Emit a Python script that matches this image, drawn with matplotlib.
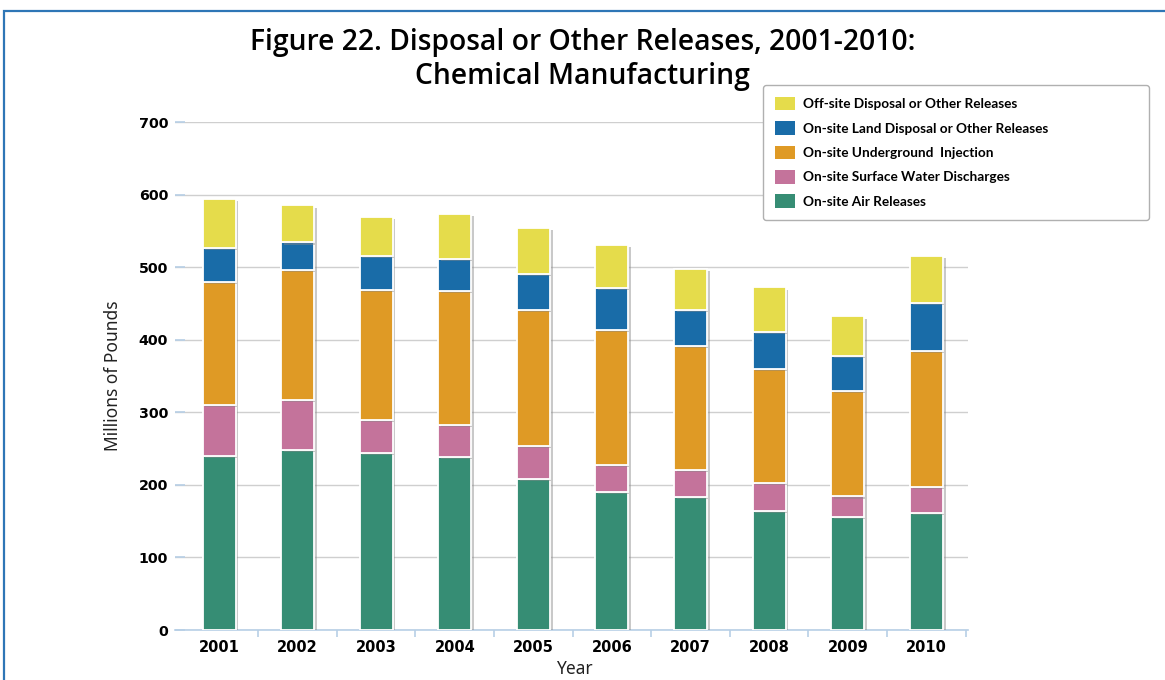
import numpy as np
import matplotlib
matplotlib.use("Agg")
import matplotlib.pyplot as plt
import matplotlib.patheffects as pe
from matplotlib.patches import Rectangle

years = ["2001", "2002", "2003", "2004", "2005", "2006", "2007", "2008", "2009", "2010"]

# millions of pounds
air_releases = [240, 248, 244, 239, 208, 190, 183, 164, 156, 161]
surface_water = [70, 69, 45, 44, 45, 38, 38, 39, 28, 36]
underground_injection = [170, 179, 180, 184, 188, 186, 171, 157, 145, 187]
land_disposal = [47, 38, 46, 44, 50, 57, 49, 51, 49, 67]
offsite_disposal = [67, 51, 54, 62, 63, 60, 56, 61, 54, 64]

series_names = [
    "On-site Air Releases",
    "On-site Surface Water Discharges",
    "On-site Underground  Injection",
    "On-site Land Disposal or Other Releases",
    "Off-site Disposal or Other Releases",
]
series_colors = ["#368d74", "#c4739b", "#df9a25", "#196ca8", "#e5dc4b"]

W, H = 1165, 680
fig = plt.figure(figsize=(W / 100, H / 100), dpi=100)
fig.patch.set_facecolor("white")

# blue frame around the figure (runs off right/bottom edge)
fig.patches.append(Rectangle((4 / W, -0.05), 1.2, 1 - 11 / H + 0.05,
                             transform=fig.transFigure, fill=False,
                             edgecolor="#2e76b6", lw=1.6))

ax = fig.add_axes([175 / W, 50 / H, 793 / W, 508 / H])
x = np.arange(len(years))
shadow = [pe.SimplePatchShadow(offset=(2, -1.5), shadow_rgbFace="#888888", alpha=0.45), pe.Normal()]

bottom = np.zeros(len(years))
handles = []
for vals, name, col in zip([air_releases, surface_water, underground_injection, land_disposal, offsite_disposal],
                           series_names, series_colors):
    b = ax.bar(x, vals, 0.42, bottom=bottom, color=col, edgecolor="white", linewidth=1.3,
               label=name, zorder=3)
    for p in b.patches:
        p.set_path_effects(shadow)
    handles.append(b)
    bottom = bottom + np.array(vals)

ax.set_xlim(-0.56, 9.53)
ax.set_ylim(0, 700)
ax.set_yticks(range(0, 701, 100))
ax.set_xticks(x)
ax.set_xticklabels(years)
ax.set_xticks(np.arange(0.5, 10, 1), minor=True)

for s in ["top", "right", "left"]:
    ax.spines[s].set_visible(False)
ax.spines["bottom"].set_color("#b7cfe6")
ax.spines["bottom"].set_linewidth(1.2)

ax.grid(axis="y", color="#cfcfcf", lw=1, zorder=0)
ax.set_axisbelow(True)
ax.tick_params(axis="y", direction="in", length=7, color="#b7cfe6", width=1.2, pad=5,
               labelsize=10.3)
ax.tick_params(axis="x", which="major", length=0, pad=7, labelsize=10.5)
ax.tick_params(axis="x", which="minor", length=5, color="#b7cfe6", width=1.2)
for lab in ax.get_xticklabels() + ax.get_yticklabels():
    lab.set_fontweight("bold")
    lab.set_family("DejaVu Sans")

ax.set_ylabel("Millions of Pounds", fontsize=12.5, family="Noto Sans", color="#222222")
ax.yaxis.set_label_coords(-0.067, 0.5)
ax.set_xlabel("Year", fontsize=12.5, family="Noto Sans", color="#222222")
ax.xaxis.set_label_coords(0.504, -0.06)

fig.text(0.5, 1 - 50 / H, "Figure 22. Disposal or Other Releases, 2001-2010:",
         ha="center", va="baseline", fontsize=20.3, family="Open Sans", fontweight="semibold")
fig.text(0.5, 1 - 84 / H, "Chemical Manufacturing",
         ha="center", va="baseline", fontsize=20.3, family="Open Sans", fontweight="semibold")

leg = fig.legend(handles[::-1], series_names[::-1], loc="upper left",
                 bbox_to_anchor=(763 / W, 1 - 86 / H, (1149 - 763) / W, 0.001),
                 mode="expand", prop={"family": "Lato", "weight": "bold", "size": 9.8},
                 handlelength=1.5, handleheight=1.15, handletextpad=0.6,
                 labelspacing=0.8, borderpad=0.85, borderaxespad=0,
                 fancybox=True, framealpha=1, edgecolor="#b0b0b0")
leg.get_frame().set_linewidth(1.0)
for hp in leg.legend_handles:
    hp.set_edgecolor("none")
    hp.set_path_effects([])

fig.savefig("out.png", dpi=100)
